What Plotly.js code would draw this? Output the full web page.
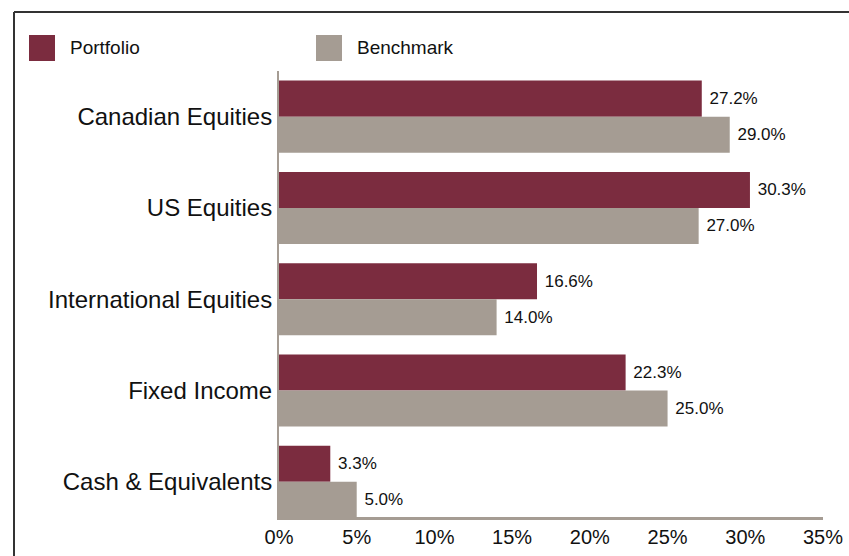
<!DOCTYPE html>
<html>
<head>
<meta charset="utf-8">
<script src="https://cdn.plot.ly/plotly-3.0.1.min.js"></script>
<style>html,body{margin:0;padding:0;background:#fff;}#chart{width:849px;height:556px;}</style>
</head>
<body>
<div id="chart"></div>
<script>
const categories = ["Canadian Equities", "US Equities", "International Equities", "Fixed Income", "Cash & Equivalents"];
const portfolio = [27.2, 30.3, 16.6, 22.3, 3.3];
const benchmark = [29.0, 27.0, 14.0, 25.0, 5.0];
const xTickVals = [0, 5, 10, 15, 20, 25, 30, 35];
const xTickText = ["0%", "5%", "10%", "15%", "20%", "25%", "30%", "35%"];
const seriesNames = ["Portfolio", "Benchmark"];

const FONT = '"Liberation Sans", Arial, sans-serif';
const colors = ["#7B2C3F", "#A59C93"];

const traces = [portfolio, benchmark].map((vals, i) => ({
  type: "bar",
  orientation: "h",
  name: seriesNames[i],
  y: categories,
  x: vals,
  marker: {color: colors[i], line: {width: 0}},
  texttemplate: " %{x:.1f}%",
  textposition: "outside",
  cliponaxis: false,
  textfont: {family: FONT, size: 17, color: "#111"},
  hoverinfo: "skip"
}));

const layout = {
  width: 849, height: 556,
  margin: {l: 279, r: 26, t: 71, b: 39, pad: 0},
  paper_bgcolor: "#fff", plot_bgcolor: "#fff",
  barmode: "group", bargap: 0.21, bargroupgap: 0,
  showlegend: false,
  font: {family: FONT, color: "#111"},
  xaxis: {
    range: [0, 35], tickvals: xTickVals, ticktext: xTickText,
    showgrid: false, zeroline: false, showline: true, linecolor: "#A59C93", linewidth: 3,
    ticks: "", tickfont: {family: FONT, size: 20, color: "#111"},
    ticklabelstandoff: 0, fixedrange: true
  },
  yaxis: {
    type: "category", range: [4.385, -0.5],
    showgrid: false, zeroline: false, showline: true, linecolor: "#A59C93", linewidth: 2,
    ticks: "", tickfont: {family: FONT, size: 24, color: "#111"}, ticklabelstandoff: 0, fixedrange: true
  },
  shapes: [
    {type: "line", xref: "paper", yref: "paper", x0: -279/544 + 14/544, x1: 1 + 26/544, y0: 1 + 59/446, y1: 1 + 59/446, line: {color: "#333", width: 2}},
    {type: "line", xref: "paper", yref: "paper", x0: -279/544 + 14/544, x1: -279/544 + 14/544, y0: -39/446, y1: 1 + 59/446, line: {color: "#333", width: 2}},
    {type: "rect", xref: "paper", yref: "paper", x0: (29-279)/544, x1: (55-279)/544, y0: (517-61)/446, y1: (517-35)/446, fillcolor: colors[0], line: {width: 0}},
    {type: "rect", xref: "paper", yref: "paper", x0: (316-279)/544, x1: (342-279)/544, y0: (517-61)/446, y1: (517-35)/446, fillcolor: colors[1], line: {width: 0}}
  ],
  annotations: [
    {xref: "paper", yref: "paper", x: (68-279)/544, y: (517-48)/446, xanchor: "left", yanchor: "middle", text: seriesNames[0], showarrow: false, font: {family: FONT, size: 19, color: "#111"}},
    {xref: "paper", yref: "paper", x: (355-279)/544, y: (517-48)/446, xanchor: "left", yanchor: "middle", text: seriesNames[1], showarrow: false, font: {family: FONT, size: 19, color: "#111"}}
  ]
};

Plotly.newPlot("chart", traces, layout, {displayModeBar: false, staticPlot: true});
</script>
</body>
</html>
